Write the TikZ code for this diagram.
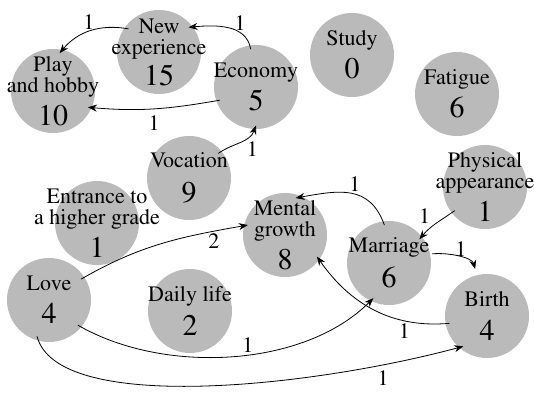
\documentclass[tikz,border=0pt]{standalone}
\usepackage[T1]{fontenc}
\usepackage{mathptmx}
\usetikzlibrary{arrows.meta}
\newcommand\topicfont{\fontsize{22bp}{21bp}\selectfont\lineskiplimit=-100bp\relax}
\newcommand\countfont{\fontsize{30bp}{30bp}\selectfont}
\tikzset{
	topic/.style={circle,fill=black!27,minimum size=84bp,inner sep=-30bp,outer sep=-3.5bp,align=center,font=\topicfont},
	link/.style={->,line width=0.8bp},
	weight/.style={font=\topicfont,inner sep=2bp},
}
\begin{document}
\begin{tikzpicture}[>={Stealth[length=9bp,width=7bp]},x=1bp,y=1bp,line cap=round]
			\useasboundingbox (0,0) rectangle (534,392);
			% topics
			\node[topic] (play) at (53,301) {Play\\and hobby\\[12bp]{\countfont 10}};
			\node[topic] (newexp) at (159,340) {New\\experience\\[10bp]{\countfont 15}};
			\node[topic] (economy) at (256,305) {Economy\\[12bp]{\countfont 5}};
			\node[topic] (study) at (352,337) {Study\\[12bp]{\countfont 0}};
			\node[topic] (fatigue) at (457,298) {Fatigue\\[12bp]{\countfont 6}};
			\node[topic] (vocation) at (189,214) {Vocation\\[14bp]{\countfont 9}};
			\node[topic] (entrance) at (97,169) {Entrance to\\a higher grade\\[12bp]{\countfont 1}};
			\node[topic] (mental) at (285,157) {Mental\\growth\\[12bp]{\countfont 8}};
			\node[topic] (physical) at (485,205) {Physical\\appearance\\[12bp]{\countfont 1}};
			\node[topic] (marriage) at (389,129) {Marriage\\[14bp]{\countfont 6}};
			\node[topic] (love) at (49,92) {Love\\[12bp]{\countfont 4}};
			\node[topic] (daily) at (190,81) {Daily life\\[13bp]{\countfont 2}};
			\node[topic] (birth) at (487,76) {Birth\\[13bp]{\countfont 4}};
			% links
			\draw[link] (economy.98) to[out=100,in=5] node[weight,above,pos=0.3] (w1) {1} (newexp.40);
			\draw[link] (newexp.143) to[out=170,in=50] node[weight,above,pos=0.52] (w2) {1} (play.80);
			\draw[link] (economy.200) to[out=190,in=-5] node[weight,below=4bp,pos=0.5] (w3) {1} (play.-25);
			\draw[link] (vocation.40) to[out=35,in=250] node[weight,below right,pos=0.6] (w4) {1} (economy.-90);
			\draw[link] (love.33) to[out=30,in=190] node[weight,below,pos=0.82] (w5) {2} (mental.165);
			\draw[link] (marriage.97) to[out=110,in=10,looseness=1.2] node[weight,above,pos=0.45] (w6) {1} (mental.74);
			\draw[link] (physical.218) to[out=215,in=50] node[weight,above left,pos=0.6] (w7) {1} (marriage.38);
			\draw[link,shorten <=6bp,shorten >=10bp] (marriage.13) to[out=5,in=105] node[weight,above,pos=0.55] (w8) {1} (birth.104);
			\draw[link] (birth.191) to[out=185,in=-55] node[weight,below,pos=0.28] (w9) {1} (mental.-34);
			\draw[link] (love.-41) to[out=-30,in=225,looseness=0.85] node[weight,above,pos=0.55] (w10) {1} (marriage.246);
			\draw[link] (love.252) .. controls +(-75:80) and +(195:160) .. node[weight,below=3bp,pos=0.84] (w11) {1} (birth.232);
	\end{tikzpicture}
\end{document}
